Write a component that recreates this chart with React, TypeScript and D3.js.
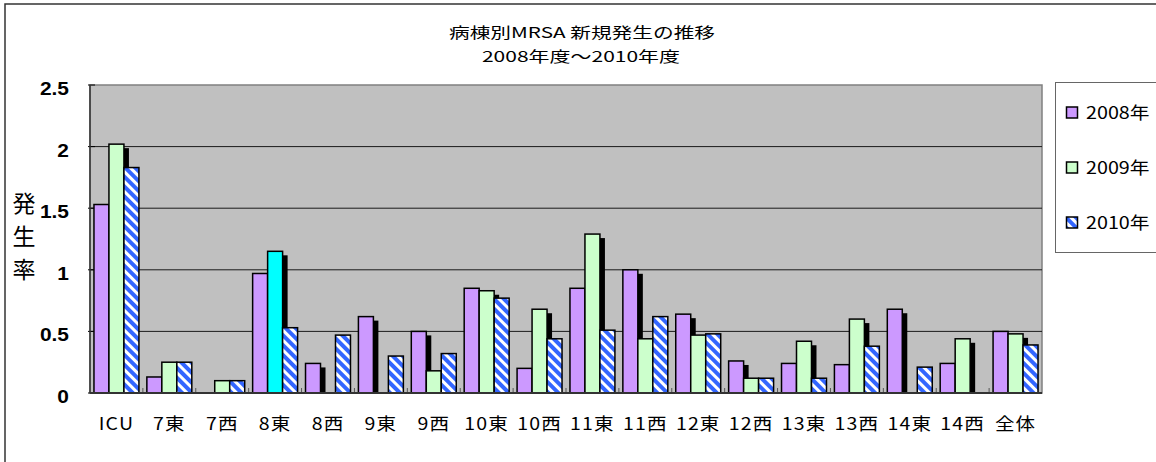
import React from "react";
import * as d3 from "d3";

const categories = ["ICU", "7東", "7西", "8東", "8西", "9東", "9西", "10東", "10西", "11東", "11西", "12東", "12西", "13東", "13西", "14東", "14西", "全体"];
const seriesNames = ["2008年", "2009年", "2010年"];
const v2008 = [1.53, 0.13, 0, 0.97, 0.24, 0.62, 0.5, 0.85, 0.2, 0.85, 1.0, 0.64, 0.26, 0.24, 0.23, 0.68, 0.24, 0.5];
const v2009 = [2.02, 0.25, 0.1, 1.15, 0, 0, 0.18, 0.83, 0.68, 1.29, 0.44, 0.47, 0.12, 0.42, 0.6, 0, 0.44, 0.48];
const v2010 = [1.83, 0.25, 0.1, 0.53, 0.47, 0.3, 0.32, 0.77, 0.44, 0.51, 0.62, 0.48, 0.12, 0.12, 0.38, 0.21, 0, 0.39];
const yTicks = [0, 0.5, 1, 1.5, 2, 2.5];
const highlight = { series: 1, category: "8東", color: "#00FFFF" };

const W = 1156, H = 462;
const plot = { left: 90, right: 1042, top: 85, bottom: 393 };
const fills = ["#CC99FF", "#CCFFCC", "url(#stripes)"];
const jp = "'Noto Sans CJK JP', sans-serif";

// stretched text, the original picture is wider than tall
function SText({ x, y, sx = 1, size, anchor = "middle", weight = "normal", family = jp, ls = 0, children }: any) {
  return (
    <text
      transform={`translate(${x},${y}) scale(${sx},1)`}
      textAnchor={anchor}
      fontSize={size}
      fontWeight={weight}
      fontFamily={family}
      letterSpacing={ls}
      fill="#000"
    >
      {children}
    </text>
  );
}

export default function App() {
  const series = [v2008, v2009, v2010];
  const x0 = d3.scaleBand().domain(categories).range([plot.left, plot.right]).paddingInner(0.15).paddingOuter(0.075);
  const x1 = d3.scaleBand().domain(seriesNames).range([0, x0.bandwidth()]);
  const y = d3.scaleLinear().domain([0, 2.5]).range([plot.bottom, plot.top]);

  const bars: any[] = [];
  categories.forEach((c, ci) => {
    series.forEach((vals, si) => {
      const v = vals[ci];
      if (!v) return;
      const bx = x0(c)! + x1(seriesNames[si])!;
      const by = y(v);
      const bh = y(0) - by;
      const fill = si === highlight.series && c === highlight.category ? highlight.color : fills[si];
      if (si < 2) {
        bars.push(
          <rect key={`s${ci}-${si}`} x={bx + 5} y={by + 4} width={x1.bandwidth()} height={Math.max(0, bh - 4)} fill="#000" />
        );
      }
      bars.push(
        <rect key={`b${ci}-${si}`} x={bx} y={by} width={x1.bandwidth()} height={bh} fill={fill} stroke="#000" strokeWidth={1.5} />
      );
    });
  });

  const legendRows = [113, 168, 223];

  return (
    <svg width={W} height={H} style={{ position: "absolute", left: 0, top: 0, background: "#fff" }}>
      <defs>
        <pattern id="stripes" width={7} height={7} patternUnits="userSpaceOnUse" patternTransform="rotate(-45)">
          <rect width={7} height={7} fill="#3366FF" />
          <rect width={3} height={7} fill="#FFFFFF" />
        </pattern>
      </defs>
      <rect x={5} y={4} width={1200} height={500} fill="#fff" stroke="#333" strokeWidth={1.5} />

      <SText x={582} y={38} sx={1.38} size={15}>病棟別MRSA 新規発生の推移</SText>
      <SText x={581} y={62} sx={1.4} size={15}>2008年度～2010年度</SText>

      <rect x={plot.left} y={plot.top} width={plot.right - plot.left} height={plot.bottom - plot.top} fill="#C0C0C0" stroke="#808080" strokeWidth={1.5} />
      {yTicks.filter((t) => t > 0 && t < 2.5).map((t) => (
        <line key={t} x1={plot.left} x2={plot.right} y1={y(t)} y2={y(t)} stroke="#1a1a1a" strokeWidth={1} />
      ))}
      {yTicks.map((t) => (
        <line key={`yt${t}`} x1={plot.left - 2} x2={plot.left + 5} y1={y(t)} y2={y(t)} stroke="#000" strokeWidth={1} />
      ))}
      {categories.map((c, i) => i > 0 && (
        <line key={`xt${c}`} x1={plot.left + i * x0.step()} x2={plot.left + i * x0.step()} y1={plot.bottom} y2={plot.bottom - 5} stroke="#555" strokeWidth={1} />
      ))}

      <clipPath id="plotclip">
        <rect x={plot.left} y={plot.top} width={plot.right - plot.left} height={plot.bottom - plot.top} />
      </clipPath>
      <g clipPath="url(#plotclip)">{bars}</g>

      <line x1={plot.left} x2={plot.left} y1={plot.top} y2={plot.bottom} stroke="#333" strokeWidth={1.5} />
      <line x1={plot.left} x2={plot.right} y1={plot.bottom} y2={plot.bottom} stroke="#333" strokeWidth={2} />

      {yTicks.map((t) => (
        <SText key={`yl${t}`} x={69} y={y(t) + 10} sx={1.1} size={19} anchor="end" weight="bold" family="'Liberation Sans', Arial, sans-serif">
          {String(t)}
        </SText>
      ))}

      {["発", "生", "率"].map((ch, i) => (
        <text key={ch} x={24} y={212 + i * 33} textAnchor="middle" fontSize={23} fontFamily={jp}>{ch}</text>
      ))}

      {categories.map((c) => (
        <SText key={`xl${c}`} x={x0(c)! + x0.bandwidth() / 2} y={430} sx={1.15} size={17} ls={1}>{c}</SText>
      ))}

      <rect x={1055.5} y={82.5} width={150} height={170} fill="#fff" stroke="#666" strokeWidth={1} />
      {seriesNames.map((s, i) => (
        <g key={s}>
          <rect x={1066.5} y={legendRows[i] - 6} width={11} height={11} fill={fills[i]} stroke="#000" strokeWidth={1.5} />
          <SText x={1086} y={legendRows[i] + 6} sx={1.16} size={17} anchor="start">{s}</SText>
        </g>
      ))}
    </svg>
  );
}
